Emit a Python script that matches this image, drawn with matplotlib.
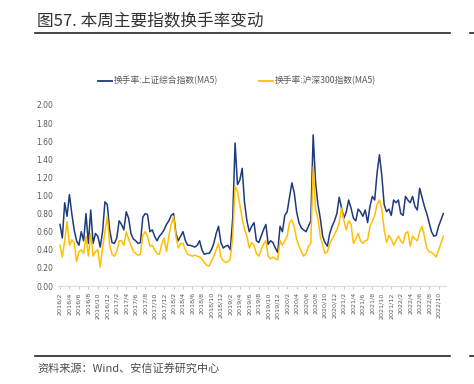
import numpy as np
import matplotlib
matplotlib.use("Agg")
import matplotlib.pyplot as plt
from matplotlib.lines import Line2D

plt.rcParams['font.family'] = ['Noto Sans CJK SC', 'DejaVu Sans']

# x tick labels (every two months)
tick_labels = [f"{y}/{m}" for y in range(2016, 2023) for m in (2, 4, 6, 8, 10, 12)]
tick_labels = tick_labels[:41]

series_names = ["换手率:上证综合指数(MA5)", "换手率:沪深300指数(MA5)"]

# semi-monthly readings, 2016/2 .. 2022/10
sh_composite = [
    0.68, 0.53, 0.92, 0.77, 1.01, 0.80, 0.62, 0.50, 0.45, 0.60,
    0.50, 0.80, 0.47, 0.84, 0.47, 0.58, 0.55, 0.43, 0.60, 0.93,
    0.90, 0.62, 0.48, 0.47, 0.53, 0.72, 0.68, 0.62, 0.82, 0.75,
    0.58, 0.52, 0.50, 0.47, 0.48, 0.76, 0.80, 0.79, 0.60, 0.62,
    0.55, 0.50, 0.55, 0.58, 0.62, 0.68, 0.72, 0.78, 0.80, 0.58,
    0.50, 0.55, 0.60, 0.50, 0.45, 0.45, 0.44, 0.43, 0.45, 0.50,
    0.40, 0.35, 0.36, 0.36, 0.40, 0.47, 0.58, 0.66, 0.48, 0.42,
    0.44, 0.45, 0.40, 0.75, 1.58, 1.12, 1.17, 1.30, 0.92, 0.72,
    0.60, 0.66, 0.70, 0.50, 0.48, 0.55, 0.62, 0.68, 0.46, 0.50,
    0.48, 0.42, 0.37, 0.66, 0.60, 0.78, 0.82, 0.98, 1.14, 1.03,
    0.82, 0.70, 0.64, 0.62, 0.60, 0.66, 0.72, 1.67, 1.15, 0.90,
    0.75, 0.55, 0.48, 0.44, 0.58, 0.66, 0.72, 0.80, 0.98, 0.86,
    0.75, 0.82, 0.95, 0.86, 0.75, 0.72, 0.85, 0.82, 0.77, 0.84,
    0.70, 0.88, 0.99, 0.95, 1.25, 1.45, 1.22, 0.90, 0.82, 0.85,
    0.78, 0.95, 0.92, 0.95, 0.80, 0.78, 0.99, 0.95, 0.92, 0.99,
    0.88, 0.84, 1.08, 0.98, 0.88, 0.80, 0.70, 0.60, 0.55, 0.56,
    0.66, 0.73, 0.80,
]

hs300 = [
    0.45, 0.32, 0.50, 0.71, 0.45, 0.51, 0.48, 0.27, 0.38, 0.40,
    0.36, 0.55, 0.33, 0.58, 0.33, 0.38, 0.40, 0.21, 0.42, 0.60,
    0.77, 0.45, 0.35, 0.33, 0.38, 0.50, 0.50, 0.45, 0.60, 0.52,
    0.45, 0.38, 0.36, 0.34, 0.35, 0.56, 0.60, 0.55, 0.44, 0.45,
    0.40, 0.36, 0.35, 0.46, 0.53, 0.38, 0.55, 0.68, 0.77, 0.55,
    0.42, 0.47, 0.47, 0.40, 0.35, 0.34, 0.33, 0.34, 0.33, 0.32,
    0.30, 0.26, 0.23, 0.22, 0.28, 0.33, 0.40, 0.47, 0.32, 0.28,
    0.26, 0.27, 0.30, 0.55, 1.10, 1.05, 0.90, 0.75, 0.62, 0.55,
    0.42, 0.48, 0.45, 0.36, 0.33, 0.40, 0.46, 0.50, 0.33, 0.30,
    0.32, 0.30, 0.29, 0.50, 0.45, 0.50, 0.55, 0.70, 0.73, 0.65,
    0.52, 0.44, 0.38, 0.33, 0.36, 0.44, 0.47, 1.32, 0.85, 0.75,
    0.55, 0.45, 0.36, 0.38, 0.47, 0.52, 0.57, 0.62, 0.70, 0.86,
    0.72, 0.62, 0.72, 0.68, 0.47, 0.52, 0.58, 0.50, 0.47, 0.50,
    0.51, 0.66, 0.72, 0.78, 0.90, 0.95, 0.85, 0.62, 0.48, 0.56,
    0.52, 0.45, 0.50, 0.55, 0.50, 0.47, 0.58, 0.60, 0.44, 0.55,
    0.52, 0.50, 0.60, 0.66, 0.55, 0.42, 0.38, 0.37, 0.35, 0.32,
    0.40, 0.47, 0.55,
]

blue = "#1F3A7A"
gold = "#FFC000"
gray_txt = "#595959"

W, H = 474, 384
fig = plt.figure(figsize=(W / 100, H / 100), dpi=100)

n = len(sh_composite)
x = np.arange(n)
# axes box in pixels
left_px, right_px, top_px, bot_px = 57.6, 445.7, 105, 286
ax = fig.add_axes([left_px / W, 1 - bot_px / H, (right_px - left_px) / W, (bot_px - top_px) / H])
ax.plot(x, sh_composite, color=blue, lw=1.1, solid_joinstyle='round')
ax.plot(x, hs300, color=gold, lw=1.1, solid_joinstyle='round')
ax.set_xlim(-1, n)
ax.set_ylim(0, 2.0)
ax.set_yticks(np.arange(0, 2.01, 0.2))
ax.set_yticklabels([f"{v:.2f}" for v in np.arange(0, 2.01, 0.2)], fontsize=5.5, color=gray_txt,
                   family=['DejaVu Sans'])
ax.set_xticks(np.arange(0, 4 * len(tick_labels), 4))
ax.set_xticklabels(tick_labels, rotation=90, fontsize=4.6, color=gray_txt, family=['DejaVu Sans'])
ax.tick_params(axis='y', length=0, pad=3)
ax.tick_params(axis='x', length=2.5, width=0.6, color="#BFBFBF", pad=2)
for s in ("top", "right", "left"):
    ax.spines[s].set_visible(False)
ax.spines["bottom"].set_color("#D9D9D9")
ax.spines["bottom"].set_linewidth(0.8)

# legend
handles = [Line2D([], [], color=blue, lw=1.3), Line2D([], [], color=gold, lw=1.3)]
fig.legend(handles, series_names, loc="center", bbox_to_anchor=(237 / W, 1 - 81 / H), ncol=2,
           frameon=False, fontsize=6.3, handlelength=1.6, handletextpad=0.2, columnspacing=4.7,
           labelcolor=gray_txt)

# title and rules
fig.text(37 / W, 1 - 22 / H, "图57. 本周主要指数换手率变动", fontsize=12, color="#333333",
         ha="left", va="center", fontweight="medium")
fig.add_artist(Line2D([35 / W, 450 / W], [1 - 33 / H, 1 - 33 / H], color="#262626", lw=1.2))
fig.add_artist(Line2D([470 / W, 474 / W], [1 - 33 / H, 1 - 33 / H], color="#262626", lw=1.2))
fig.add_artist(Line2D([35 / W, 450 / W], [1 - 356 / H, 1 - 356 / H], color="#262626", lw=1.2))
fig.add_artist(Line2D([470 / W, 474 / W], [1 - 356 / H, 1 - 356 / H], color="#262626", lw=1.2))
fig.text(37 / W, 1 - 368 / H, "资料来源：Wind、安信证券研究中心", fontsize=8, color="#4D4D4D",
         ha="left", va="center")

fig.savefig("out.png", dpi=100)
